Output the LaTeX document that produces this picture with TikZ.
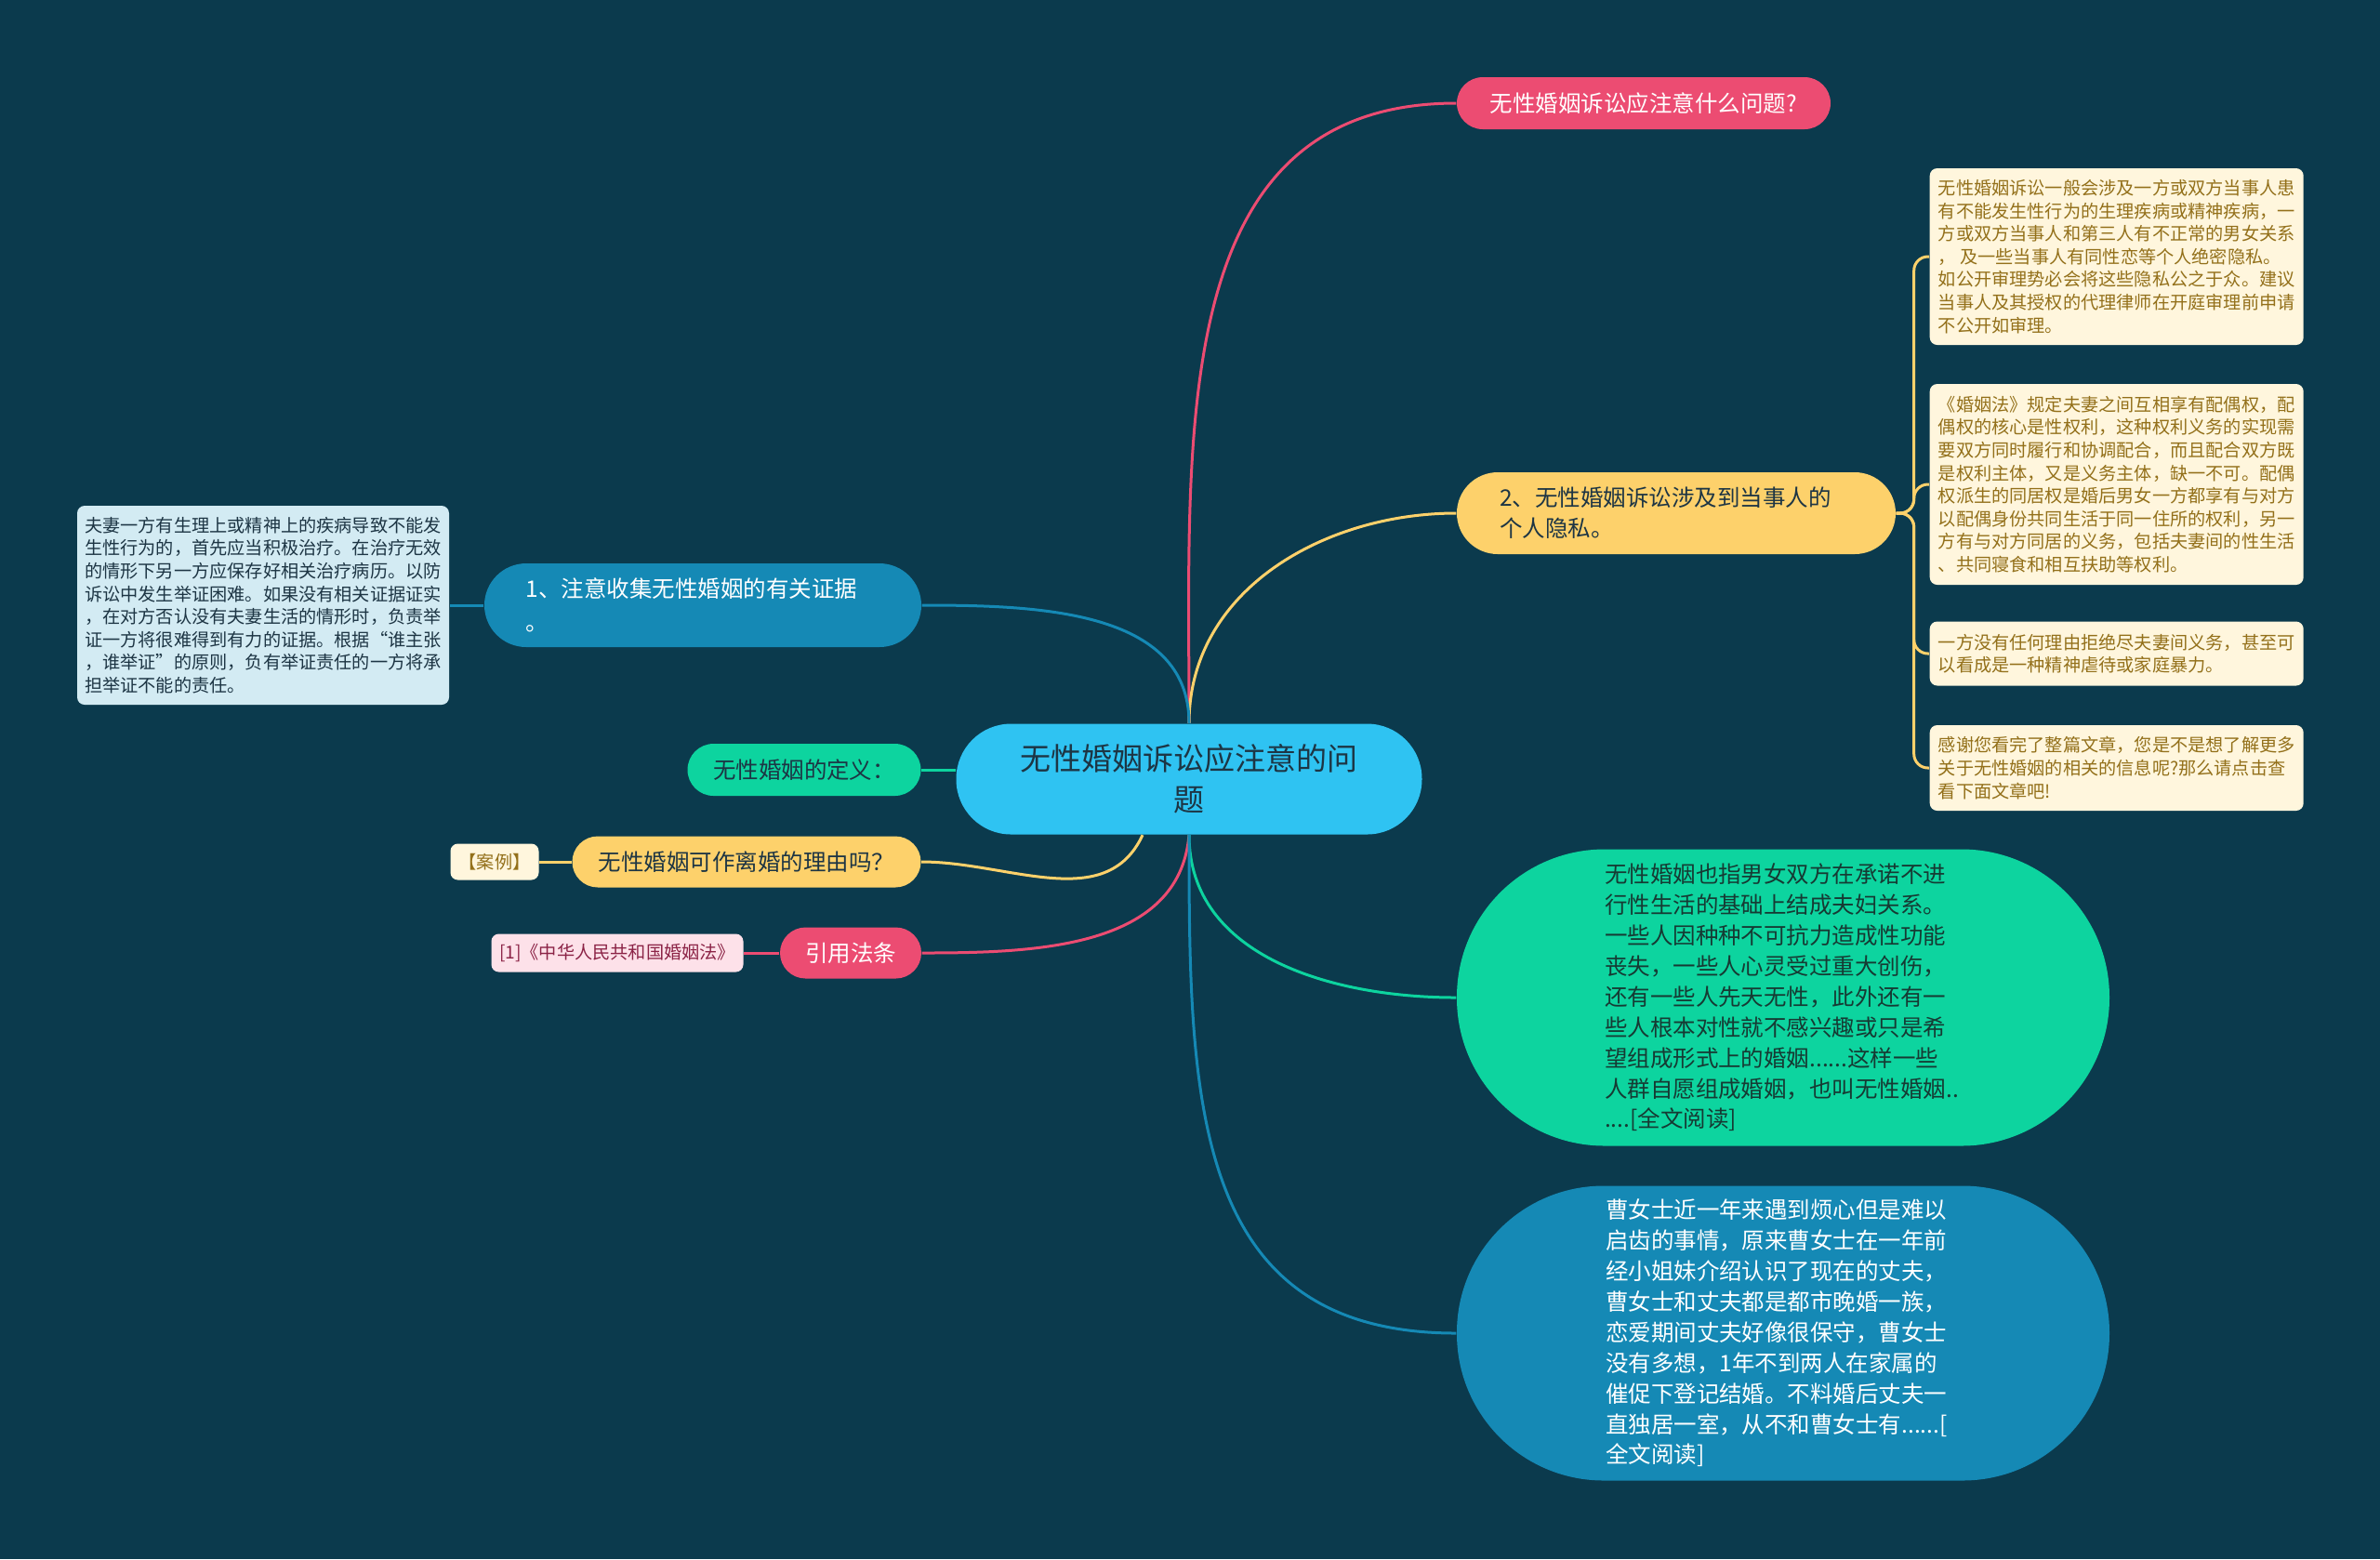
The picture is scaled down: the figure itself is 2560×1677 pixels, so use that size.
\documentclass[tikz,border=0pt]{standalone}
\usepackage{fontspec}
\setmainfont{Noto Sans CJK SC}
\usepackage{tikz}
\usepackage{xcolor}

\definecolor{bgteal}{HTML}{0B3A4D}
\definecolor{rootblue}{HTML}{2FC3F2}
\definecolor{rosered}{HTML}{EC4C72}
\definecolor{sunyellow}{HTML}{FDD16B}
\definecolor{mintgreen}{HTML}{0DD49F}
\definecolor{seablue}{HTML}{1589B5}
\definecolor{creamfill}{HTML}{FFF6DD}
\definecolor{creamtext}{HTML}{93701A}
\definecolor{paleblue}{HTML}{D3EBF3}
\definecolor{palepink}{HTML}{FDE1E9}
\definecolor{inkdark}{HTML}{1D3544}
\definecolor{mintink}{HTML}{163A33}
\definecolor{pinkink}{HTML}{8B2346}

\tikzset{
  bubble/.style={inner sep=0pt, font=\fontsize{6.97}{9.4}\selectfont},
  note/.style={inner sep=0pt, rounded corners=0.8mm, font=\fontsize{5.46}{7.0}\selectfont},
  link/.style={line width=0.3mm},
}

\begin{document}
\begin{tikzpicture}[x=0.1mm, y=-0.1mm]
    \useasboundingbox[fill=bgteal] (0,0) rectangle (2560,1677);

    %% root of the map
    \node[fill=rootblue, text=inkdark, minimum width=50.1mm, minimum height=11.9mm,
      rounded corners=5.9mm, inner sep=0pt, align=center,
      font=\fontsize{9.4}{12.5}\selectfont] (root) at (1279,838)
      {无性婚姻诉讼应注意的问\\题};

    %% right side
    \node[bubble, fill=rosered, text=white, minimum width=40.2mm, minimum height=5.6mm,
      rounded corners=2.8mm] (ask) at (1768,111) {无性婚姻诉讼应注意什么问题?};
    \node[bubble, fill=sunyellow, text=inkdark, minimum width=47.2mm, minimum height=8.8mm,
      rounded corners=4.4mm, text width=38mm, align=left] (privacy) at (1803,552)
      {2、无性婚姻诉讼涉及到当事人的\\个人隐私。};
    \node[bubble, fill=mintgreen, text=mintink, minimum width=70.2mm, minimum height=31.9mm,
      rounded corners=15.9mm, text width=38.4mm, align=left,
      font=\fontsize{6.97}{9.36}\selectfont] (meaning) at (1918,1073)
      {无性婚姻也指男女双方在承诺不进\\行性生活的基础上结成夫妇关系。\\一些人因种种不可抗力造成性功能\\丧失，一些人心灵受过重大创伤，\\还有一些人先天无性，此外还有一\\些人根本对性就不感兴趣或只是希\\望组成形式上的婚姻......这样一些\\人群自愿组成婚姻，也叫无性婚姻..\\....[全文阅读]};
    \node[bubble, fill=seablue, text=white, minimum width=70.2mm, minimum height=31.7mm,
      rounded corners=15.8mm, text width=38.2mm, align=left,
      font=\fontsize{6.97}{9.36}\selectfont] (story) at (1918,1434)
      {曹女士近一年来遇到烦心但是难以\\启齿的事情，原来曹女士在一年前\\经小姐妹介绍认识了现在的丈夫，\\曹女士和丈夫都是都市晚婚一族，\\恋爱期间丈夫好像很保守，曹女士\\没有多想，1年不到两人在家属的\\催促下登记结婚。不料婚后丈夫一\\直独居一室，从不和曹女士有......[\\全文阅读]};

    %% notes on privacy
    \node[note, fill=creamfill, text=creamtext, anchor=west, minimum width=40.2mm,
      minimum height=19mm, align=left] (hear) at (2075,276)
      {无性婚姻诉讼一般会涉及一方或双方当事人患\\有不能发生性行为的生理疾病或精神疾病，一\\方或双方当事人和第三人有不正常的男女关系\\， 及一些当事人有同性恋等个人绝密隐私。\\如公开审理势必会将这些隐私公之于众。建议\\当事人及其授权的代理律师在开庭审理前申请\\不公开如审理。};
    \node[note, fill=creamfill, text=creamtext, anchor=west, minimum width=40.2mm,
      minimum height=21.6mm, align=left] (spouse) at (2075,521)
      {《婚姻法》规定夫妻之间互相享有配偶权，配\\偶权的核心是性权利，这种权利义务的实现需\\要双方同时履行和协调配合，而且配合双方既\\是权利主体，又是义务主体，缺一不可。配偶\\权派生的同居权是婚后男女一方都享有与对方\\以配偶身份共同生活于同一住所的权利，另一\\方有与对方同居的义务，包括夫妻间的性生活\\、共同寝食和相互扶助等权利。};
    \node[note, fill=creamfill, text=creamtext, anchor=west, minimum width=40.2mm,
      minimum height=6.9mm, align=left] (refuse) at (2075,703)
      {一方没有任何理由拒绝尽夫妻间义务，甚至可\\以看成是一种精神虐待或家庭暴力。};
    \node[note, fill=creamfill, text=creamtext, anchor=west, minimum width=40.2mm,
      minimum height=9.2mm, align=left] (thanks) at (2075,826)
      {感谢您看完了整篇文章，您是不是想了解更多\\关于无性婚姻的相关的信息呢?那么请点击查\\看下面文章吧!};

    %% left side
    \node[bubble, fill=seablue, text=white, minimum width=47mm, minimum height=9mm,
      rounded corners=4.5mm, align=left, font=\fontsize{6.97}{10.2}\selectfont] (proof) at (756,651)
      {1、注意收集无性婚姻的有关证据\phantom{据}\\。};
    \node[note, fill=paleblue, text=inkdark, minimum width=40mm, minimum height=21.4mm,
      align=left] (proofnote) at (283,651)
      {夫妻一方有生理上或精神上的疾病导致不能发\\生性行为的，首先应当积极治疗。在治疗无效\\的情形下另一方应保存好相关治疗病历。以防\\诉讼中发生举证困难。如果没有相关证据证实\\，在对方否认没有夫妻生活的情形时，负责举\\证一方将很难得到有力的证据。根据“谁主张\\，谁举证”的原则，负有举证责任的一方将承\\担举证不能的责任。};
    \node[bubble, fill=mintgreen, text=inkdark, minimum width=25.1mm, minimum height=5.6mm,
      rounded corners=2.8mm] (define) at (865,828) {无性婚姻的定义：};
    \node[bubble, fill=sunyellow, text=inkdark, minimum width=37.5mm, minimum height=5.5mm,
      rounded corners=2.75mm] (divorce) at (803,927) {无性婚姻可作离婚的理由吗？};
    \node[note, fill=creamfill, text=creamtext, minimum width=9.5mm, minimum height=3.9mm]
      (case) at (532,927) {【案例】};
    \node[bubble, fill=rosered, text=white, minimum width=15.2mm, minimum height=5.5mm,
      rounded corners=2.75mm] (law) at (915,1025) {引用法条};
    \node[note, fill=palepink, text=pinkink, minimum width=27.1mm, minimum height=4.1mm]
      (lawbook) at (664,1025) {[1]《中华人民共和国婚姻法》};

    %% branches from the root
    \draw[link, rosered] (root.north) to[out=90, in=180, looseness=1.1] (ask.west);
    \draw[link, sunyellow] (root.north) to[out=90, in=180] (privacy.west);
    \draw[link, seablue] (root.north) to[out=90, in=0] (proof.east);
    \draw[link, mintgreen] (define.east) -- (define.east -| root.west);
    \draw[link, sunyellow] ([xshift=-5mm]root.south) to[out=-115, in=0] (divorce.east);
    \draw[link, rosered] (root.south) to[out=-95, in=0] (law.east);
    \draw[link, mintgreen] (root.south) to[out=-90, in=180] (meaning.west);
    \draw[link, seablue] (root.south) to[out=-90, in=180, looseness=1.2] (story.west);

    %% leaves
    \foreach \leaf in {hear, spouse, refuse, thanks}{
      \draw[link, sunyellow, rounded corners=1.5mm] (privacy.east) -- ++(19,0) |- (\leaf.west);}
    \draw[link, seablue] (proof) -- (proofnote);
    \draw[link, sunyellow] (divorce) -- (case);
    \draw[link, rosered] (law) -- (lawbook);
\end{tikzpicture}
\end{document}
